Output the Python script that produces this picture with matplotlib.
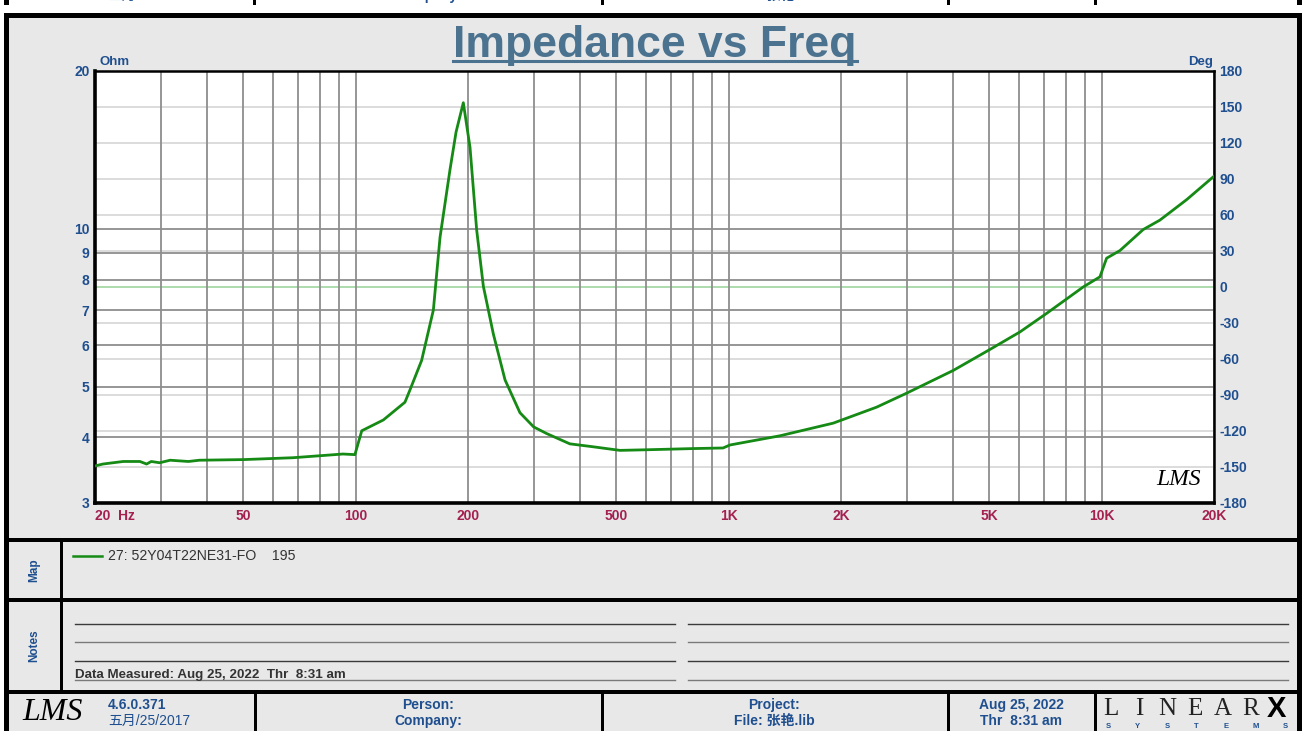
import matplotlib

matplotlib.use("Agg")

import matplotlib.pyplot as plt
from matplotlib.patches import Rectangle

plt.rcParams["font.family"] = ["Liberation Sans", "Noto Sans CJK SC", "DejaVu Sans"]

W, H = 1306, 731

# measured impedance curve
freq_hz = [20, 21, 23.8, 26.4, 27.5, 28.3, 29.8, 31.8, 35.6, 38.1, 50, 67.9, 83.5,
           92.4, 99.5, 103.8, 118.6, 135.5, 139.8, 150.2, 161.5, 168.3, 179, 185.8,
           194.3, 202.5, 211, 219.9, 233.9, 251.4, 275.6, 300, 325, 375, 433, 511,
           602, 803, 966, 1007, 1372, 1906, 2492, 3000, 4000, 5020, 6040, 7120,
           8928, 9890, 10306, 11190, 12920, 14320, 16900, 20000]
impedance_ohm = [3.53, 3.56, 3.60, 3.60, 3.56, 3.60, 3.58, 3.62, 3.60, 3.62, 3.63, 3.66,
                 3.70, 3.72, 3.71, 4.12, 4.32, 4.67, 4.93, 5.61, 7.00, 9.64, 12.98, 15.3,
                 17.4, 14.3, 9.95, 7.77, 6.30, 5.15, 4.46, 4.19, 4.07, 3.89, 3.84, 3.78,
                 3.79, 3.81, 3.82, 3.87, 4.03, 4.26, 4.57, 4.86, 5.37, 5.89, 6.36, 6.90,
                 7.75, 8.10, 8.79, 9.09, 9.97, 10.39, 11.37, 12.6]

freq_grid = [20, 30, 40, 50, 60, 70, 80, 90, 100, 200, 300, 400, 500, 600, 700, 800, 900,
             1000, 2000, 3000, 4000, 5000, 6000, 7000, 8000, 9000, 10000, 20000]
freq_labels = {20: "20  Hz", 50: "50", 100: "100", 200: "200", 500: "500", 1000: "1K",
               2000: "2K", 5000: "5K", 10000: "10K", 20000: "20K"}
ohm_ticks = [3, 4, 5, 6, 7, 8, 9, 10, 20]
deg_ticks = list(range(-180, 181, 30))

legend_label = "27: 52Y04T22NE31-FO    195"
measured_note = "Data Measured: Aug 25, 2022  Thr  8:31 am"

BLUE = "#1f4f8f"
MAROON = "#a3204f"
GRID = "#8e8e8e"
PANEL = "#e8e8e8"
CURVE = "#158a15"
CJK = ["Liberation Sans", "Noto Sans CJK SC"]

fig = plt.figure(figsize=(W / 100, H / 100), dpi=100, facecolor="white")

# full-figure overlay in pixel units for the frame and form fields
bg = fig.add_axes([0, 0, 1, 1], zorder=0)
bg.set_xlim(0, W)
bg.set_ylim(H, 0)
bg.axis("off")


def box(x0, y0, x1, y1, color):
    bg.add_patch(Rectangle((x0, y0), x1 - x0, y1 - y0, facecolor=color,
                           edgecolor="none"))


# cut-off footer of the previous page at the very top
for x in [253, 601, 947, 1094]:
    box(x, 0, x + 3, 5, "black")
box(4, 0, 9, 5, "black")
box(1297, 0, 1302, 5, "black")
bg.text(108, 3, "五月/25/2017", ha="left", va="bottom", fontsize=10, color=BLUE,
        family=CJK)
for x, s in [(428, "Company:"), (774, "File: 张艳.lib"), (1021, "Thr  8:31 am")]:
    bg.text(x, 3, s, ha="center", va="bottom", fontsize=10, fontweight="bold",
            color=BLUE, family=CJK)
bg.text(20, 4, "LMS", fontsize=23, style="italic", family="Liberation Serif",
        va="bottom")

# main frame
box(4, 13, 1302, H, "black")
box(9, 18, 1297, H, PANEL)
for y in [538, 598, 690]:
    box(9, y, 1297, y + 4, "black")
box(60, 542, 63, 690, "black")
for x in [254, 601, 947, 1094]:
    box(x, 694, x + 3, H, "black")

# title
bg.text(655, 57, "Impedance vs Freq", ha="center", va="baseline", fontsize=32,
        fontweight="bold", color="#4b7390")
bg.plot([453, 857], [61, 61], color="#4b7390", lw=2.2)
bg.text(100, 62, "Ohm", fontsize=9.5, fontweight="bold", color=BLUE, va="center")
bg.text(1213, 62, "Deg", fontsize=9.5, fontweight="bold", color=BLUE, va="center",
        ha="right")

# map panel
bg.text(34, 570, "Map", rotation=90, ha="center", va="center", fontsize=8.5,
        fontweight="bold", color=BLUE)
bg.plot([73, 102], [556, 556], color=CURVE, lw=1.8)
bg.text(108, 556, legend_label, fontsize=10.2, color="#333333", va="center")

# notes panel
bg.text(34, 646, "Notes", rotation=90, ha="center", va="center", fontsize=8.5,
        fontweight="bold", color=BLUE)
for i, y in enumerate([624, 642, 661, 680]):
    c = "#3a3a3a" if i % 2 == 0 else "#7a7a7a"
    bg.plot([75, 675], [y, y], color=c, lw=1.0)
    bg.plot([688, 1288], [y, y], color=c, lw=1.0)
bg.text(75, 675, measured_note, fontsize=9.6, fontweight="bold", color="#333333",
        va="center")

# footer
bg.text(22, 713, "LMS", fontsize=23, style="italic", family="Liberation Serif",
        va="center")
bg.text(108, 705, "4.6.0.371", fontsize=10, fontweight="bold", color=BLUE, va="center")
bg.text(108, 721, "五月/25/2017", fontsize=10, color=BLUE, va="center", family=CJK)
bg.text(428, 705, "Person:", fontsize=10, fontweight="bold", color=BLUE,
        ha="center", va="center")
bg.text(428, 721, "Company:", fontsize=10, fontweight="bold", color=BLUE,
        ha="center", va="center")
bg.text(774, 705, "Project:", fontsize=10, fontweight="bold", color=BLUE,
        ha="center", va="center")
bg.text(774, 721, "File: 张艳.lib", fontsize=10, fontweight="bold", color=BLUE,
        ha="center", va="center", family=CJK)
bg.text(1021, 705, "Aug 25, 2022", fontsize=10, fontweight="bold", color=BLUE,
        ha="center", va="center")
bg.text(1021, 721, "Thr  8:31 am", fontsize=10, fontweight="bold", color=BLUE,
        ha="center", va="center")

# LINEARX logo
for i, ch in enumerate("LINEAR"):
    bg.text(1111 + i * 28, 709, ch, fontsize=18, family="Liberation Serif",
            color="#222222", ha="center", va="center")
bg.text(1276, 709, "X", fontsize=21, fontweight="bold", color="black",
        ha="center", va="center")
for i, ch in enumerate("SYSTEMS"):
    bg.text(1108 + i * 29.5, 726, ch, fontsize=5.5, fontweight="bold",
            color=BLUE, ha="center", va="center")

# plot area
x0, x1, y0, y1 = 95, 1214, 71, 503
rect = [x0 / W, 1 - y1 / H, (x1 - x0) / W, (y1 - y0) / H]
ax2 = fig.add_axes(rect, zorder=1)
ax = fig.add_axes(rect, zorder=2, sharex=ax2)
ax.patch.set_visible(False)
ax2.set_facecolor("white")

ax.set_xscale("log")
ax.set_yscale("log")
ax.set_xlim(20, 20000)
ax.set_ylim(3, 20)
ax2.set_ylim(-180, 180)

ax.set_xticks(freq_grid)
ax.set_xticklabels([freq_labels.get(f, "") for f in freq_grid])
ax.xaxis.set_minor_locator(matplotlib.ticker.NullLocator())
ax.set_yticks(ohm_ticks)
ax.set_yticklabels([str(v) for v in ohm_ticks])
ax.yaxis.set_minor_locator(matplotlib.ticker.NullLocator())
ax.grid(True, color=GRID, lw=1.3)
ax.tick_params(length=0, labelsize=10, pad=4)
for lab in ax.get_xticklabels():
    lab.set_color(MAROON)
    lab.set_fontweight("bold")
for lab in ax.get_yticklabels():
    lab.set_color(BLUE)
    lab.set_fontweight("bold")
ax.get_xticklabels()[0].set_horizontalalignment("left")

ax2.yaxis.tick_right()
ax2.set_yticks(deg_ticks)
ax2.set_yticklabels([str(v) for v in deg_ticks])
ax2.tick_params(axis="y", length=0, labelsize=10, pad=4, labelcolor=BLUE)
ax2.tick_params(axis="x", length=0, labelbottom=False)
for lab in ax2.get_yticklabels():
    lab.set_fontweight("bold")
for d in deg_ticks:
    if d == 0:
        ax2.axhline(d, color="#a6d9a6", lw=1.3)
    else:
        ax2.axhline(d, color="#d6d6d6", lw=1.2)

ax.plot(freq_hz, impedance_ohm, color=CURVE, lw=2.0, zorder=5)

for spine in ["left", "bottom"]:
    ax.spines[spine].set_linewidth(2.6)
for spine in ["top", "right"]:
    ax.spines[spine].set_linewidth(1.8)
for spine in ax2.spines.values():
    spine.set_visible(False)

ax.text(0.988, 0.03, "LMS", transform=ax.transAxes, ha="right", va="bottom",
        fontsize=17, style="italic", family="Liberation Serif", zorder=6)

fig.savefig("out.png", dpi=100, facecolor="white")
